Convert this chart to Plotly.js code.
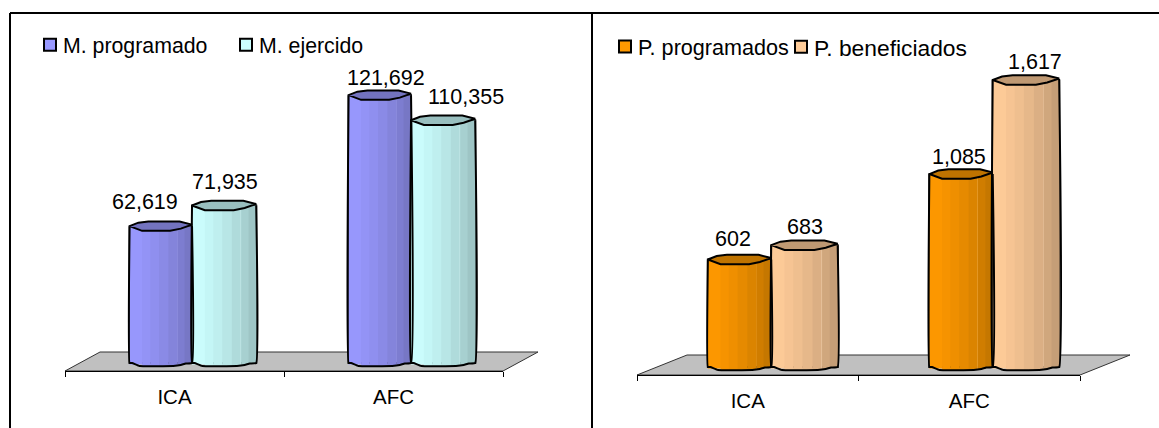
<!DOCTYPE html>
<html><head><meta charset="utf-8">
<script src="https://cdn.plot.ly/plotly-3.0.1.min.js"></script>
<style>html,body{margin:0;padding:0;background:#fff}</style></head>
<body><div id="chart" style="width:1159px;height:428px"></div>
<script>
var categories = ['ICA', 'AFC'];
var montoProgramado = [62619, 121692];
var montoEjercido = [71935, 110355];
var personasProgramados = [602, 1085];
var personasBeneficiados = [683, 1617];

var W = 1159, H = 428, FONT = '"Liberation Sans", Arial, sans-serif';
var bottomKeys = [[0,0],[0.04,0],[0.16,3],[0.7,3],[0.82,2],[0.9,0.5],[1,0]];
var capTop = [[0,0],[0.14,3.5],[0.3,4.7],[0.8,4.7],[1,1.5]];
var capFront = [[1,1.5],[0.82,-2.5],[0.65,-4.7],[0.2,-4.7],[0,0]];
var facets = [0,0.2,0.33,0.47,0.62,0.76,0.765,0.88,1];

function mix(a, b, t) {
  return 'rgb(' + a.map(function (c, i) { return Math.round(c + (b[i] - c) * t); }).join(',') + ')';
}
function keyAt(keys, t) {
  for (var i = 1; i < keys.length; i++) {
    if (t <= keys[i][0]) {
      var k = (t - keys[i-1][0]) / (keys[i][0] - keys[i-1][0]);
      return keys[i-1][1] + (keys[i][1] - keys[i-1][1]) * k;
    }
  }
  return 0;
}
function fmt(v) { return v.toLocaleString('en-US'); }

var traces = [], annotations = [];
function addSeries(p, s) {
  var vals = s.values, sideBase = p.side / p.scale;
  traces.push({type:'bar', xaxis:p.xa, yaxis:p.ya, legend:s.legend, name:s.name, showlegend:true,
    x:[0,1], y:vals.map(function(v){return v - sideBase;}), base:[sideBase,sideBase],
    offset:s.start, width:s.width, hoverinfo:'skip',
    marker:{color:mix(s.light,s.dark,0), line:{color:'#000',width:2}}});
  for (var f = 0; f < facets.length - 1; f++) {
    var t0 = facets[f], t1 = facets[f+1], tm = (t0+t1)/2;
    var thin = (t1 - t0) < 0.02;
    var b = (p.side - keyAt(bottomKeys, tm)) / p.scale;
    traces.push({type:'bar', xaxis:p.xa, yaxis:p.ya, showlegend:false, hoverinfo:'skip',
      x:[0,1], y:vals.map(function(v){return v - b;}), base:[b,b],
      offset:s.start + t0*s.width, width:(t1-t0)*s.width + (thin?0:0.002),
      marker:{color: thin ? mix(s.light,[255,255,255],0.55) : mix(s.light,s.dark,tm*tm*0.6+tm*0.4), line:{width:0}}});
  }
  vals.forEach(function (v, i) {
    var ox=[], oy=[];
    ox.push(i+s.start); oy.push(v);
    bottomKeys.forEach(function(k){ ox.push(i+s.start+k[0]*s.width); oy.push((p.side-k[1])/p.scale); });
    ox.push(i+s.start+s.width); oy.push(v);
    traces.push({type:'scatter', mode:'lines', xaxis:p.xa, yaxis:p.ya, showlegend:false, hoverinfo:'skip', cliponaxis:false,
      x:ox, y:oy, line:{color:'#000',width:2,shape:'spline',smoothing:0.3}});
    var cx=[], cy=[];
    capTop.concat(capFront).forEach(function(k){ cx.push(i+s.start+k[0]*s.width); cy.push(v+k[1]/p.scale); });
    traces.push({type:'scatter', mode:'lines', xaxis:p.xa, yaxis:p.ya, showlegend:false, hoverinfo:'skip', cliponaxis:false,
      x:cx, y:cy, fill:'toself', fillcolor:mix(s.light,s.dark,1), line:{color:'#000',width:2}});
    annotations.push({xref:p.xa, yref:p.ya, x:i+s.start+s.width/2, y:v, text:fmt(v), showarrow:false,
      xshift:s.lx[i], yshift:s.ly[i], font:{family:FONT,size:21.5,color:'#000'}});
  });
}

var panels = [
  {xa:'x', ya:'y', left:65, right:503, axisY:371, zero:365, scale:0.0022176, side:2, standoff:7,
   series:[
    {name:'M. programado', legend:'legend', values:montoProgramado, start:-0.205, width:0.285, light:[153,153,255], dark:[115,115,191], lx:[-16,6], ly:[24,17]},
    {name:'M. ejercido', legend:'legend2', values:montoEjercido, start:0.08, width:0.293, light:[204,255,255], dark:[153,191,191], lx:[1,23], ly:[23,23]}
   ]},
  {xa:'x2', ya:'y2', left:637, right:1080, axisY:375, zero:366, scale:0.1769, side:-1, standoff:7,
   series:[
    {name:'P. programados', legend:'legend3', values:personasProgramados, start:-0.18, width:0.286, light:[255,153,0], dark:[191,115,0], lx:[-7,-2], ly:[21,17]},
    {name:'P. beneficiados', legend:'legend4', values:personasBeneficiados, start:0.106, width:0.3, light:[255,204,153], dark:[191,153,115], lx:[1,9], ly:[18,18]}
   ]}
];
panels.forEach(function (p) { p.series.forEach(function (s) { addSeries(p, s); }); });

function axX(p) {
  return {domain:[p.left/W, p.right/W], range:[-0.5,1.5], anchor:p.ya==='y'?'y':'y2', showgrid:false, zeroline:false,
    showline:true, linecolor:'#000', linewidth:1, ticks:'', tickmode:'array', tickvals:[0,1], ticktext:categories,
    ticklabelstandoff:p.standoff, tickfont:{family:FONT,size:20.5,color:'#000'},
    minor:{tickmode:'array', tickvals:[-0.5,0.5,1.5], ticks:'outside', ticklen:5, tickcolor:'#000', tickwidth:1, showgrid:false}};
}
function axY(p) {
  return {domain:[(H-p.axisY)/H, (H-20)/H], range:[-(p.axisY-p.zero)/p.scale, (p.zero-20)/p.scale], anchor:p.xa==='x'?'x':'x2', visible:false, fixedrange:true};
}
function px(x){return x/W;} function py(y){return 1-y/H;}
function floor(x0,x1,dx,yb,yt){
  return {type:'path', xref:'paper', yref:'paper', layer:'below', fillcolor:'#C0C0C0', line:{color:'#333',width:1},
    path:'M'+px(x0)+','+py(yb)+'L'+px(x0+dx)+','+py(yt)+'L'+px(x1+dx)+','+py(yt)+'L'+px(x1)+','+py(yb)+'Z'};
}
function rule(x0,y0,x1,y1){
  return {type:'line', xref:'paper', yref:'paper', x0:px(x0), y0:py(y0), x1:px(x1), y1:py(y1), line:{color:'#000',width:2}};
}
function legendAt(x, y, size) {
  return {xanchor:'left', yanchor:'middle', bgcolor:'rgba(0,0,0,0)', borderwidth:0, x:x/W, y:py(y),
    font:{family:FONT,size:size,color:'#000'}};
}
var layout = {
  width:W, height:H, margin:{l:0,r:0,t:0,b:0}, paper_bgcolor:'#fff', plot_bgcolor:'rgba(0,0,0,0)',
  barmode:'overlay', showlegend:true, hovermode:false,
  xaxis:axX(panels[0]), yaxis:axY(panels[0]), xaxis2:axX(panels[1]), yaxis2:axY(panels[1]),
  legend:legendAt(23,45,21.3), legend2:legendAt(219,45,21.3),
  legend3:legendAt(598,47,21.6), legend4:legendAt(774,47,22.8),
  annotations:annotations,
  shapes:[floor(65,503,35,371,352), floor(637,1080,50,375,355),
    rule(10,13,1159,13), rule(10,13,10,428), rule(592,13,592,428)]
};
Plotly.newPlot('chart', traces, layout, {displayModeBar:false, staticPlot:true}).then(function () {
  // Excel-style legends keep the swatch close to its text
  document.querySelectorAll('.legendsymbols').forEach(function (g) {
    g.setAttribute('transform', 'translate(7,0) ' + (g.getAttribute('transform') || ''));
  });
});
</script></body></html>
